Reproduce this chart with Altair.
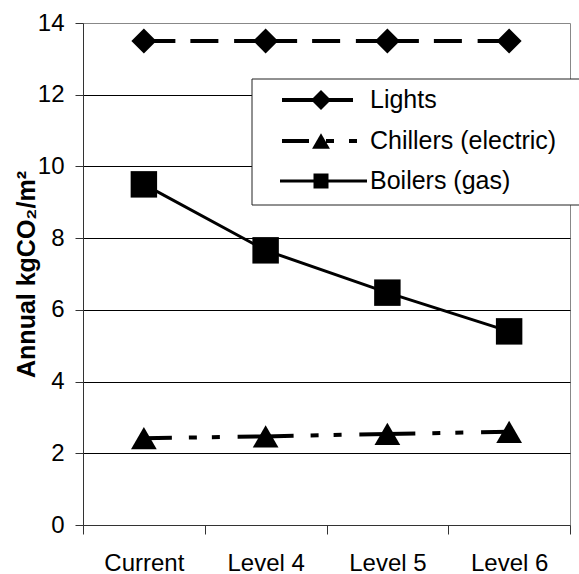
import altair as alt
import pandas as pd

# Annual CO2 intensity by upgrade level
categories = ["Current", "Level 4", "Level 5", "Level 6"]
series_names = ["Lights", "Chillers (electric)", "Boilers (gas)"]
lights = [13.5, 13.5, 13.5, 13.5]
chillers = [2.42, 2.47, 2.54, 2.60]
boilers = [9.5, 7.66, 6.48, 5.4]
y_ticks = [0, 2, 4, 6, 8, 10, 12, 14]

values = {"Lights": lights, "Chillers (electric)": chillers, "Boilers (gas)": boilers}
rows = []
for name in series_names:
    for cat, v in zip(categories, values[name]):
        rows.append({"category": cat, "series": name, "value": v})
df = pd.DataFrame(rows)

FONT = "Liberation Sans"
W, H = 487, 502

x_enc = alt.X(
    "category:N",
    sort=categories,
    scale=alt.Scale(paddingInner=0, paddingOuter=0),
    axis=alt.Axis(
        title=None,
        labelAngle=0,
        labelFontSize=24,
        labelFont=FONT,
        labelColor="black",
        labelPadding=17,
        tickBand="extent",
        tickSize=9,
        tickColor="#333",
        domainColor="#333",
        grid=False,
    ),
)
y_enc = alt.Y(
    "value:Q",
    scale=alt.Scale(domain=[0, 14], nice=False, zero=True),
    axis=alt.Axis(
        values=y_ticks,
        title="Annual kgCO₂/m²",
        titleFont=FONT,
        titleFontSize=25,
        titleFontWeight="bold",
        titleColor="black",
        titleAngle=270,
        titleAlign="center",
        titleBaseline="alphabetic",
        titleX=-49,
        titleY=H / 2,
        labelFontSize=24,
        labelFont=FONT,
        labelColor="black",
        labelPadding=11,
        tickSize=8,
        tickColor="#333",
        domainColor="#333",
        grid=True,
        gridColor="black",
        gridWidth=1,
        gridOpacity=alt.condition("datum.value === 14 || datum.value === 0", alt.value(0), alt.value(1)),
    ),
)

base = alt.Chart(df)

line_styles = {
    "Lights": dict(strokeWidth=4, strokeDash=[63, 15, 28, 15.75], strokeDashOffset=31.5),
    "Chillers (electric)": dict(strokeWidth=4, strokeDash=[56, 17, 8, 15, 8, 17.75], strokeDashOffset=28),
    "Boilers (gas)": dict(strokeWidth=3),
}
shapes = ["diamond", "triangle-up", "square"]
sizes = [625, 700, 529]

layers = []
for name in series_names:
    layers.append(
        base.transform_filter(alt.datum.series == name)
        .mark_line(color="black", **line_styles[name])
        .encode(x=x_enc, y=y_enc)
    )

layers.append(
    base.mark_point(filled=True, color="black", opacity=1)
    .encode(
        x=x_enc,
        y=y_enc,
        shape=alt.Shape("series:N", scale=alt.Scale(domain=series_names, range=shapes), legend=None),
        size=alt.Size("series:N", scale=alt.Scale(domain=series_names, range=sizes), legend=None),
    )
)

# Legend box, drawn inside the plot frame (pixel offsets from the plot origin)
box = alt.Chart(pd.DataFrame({"series": ["box"]})).mark_rect(
    fill="white", stroke="#222", strokeWidth=1, clip=False
).encode(x=alt.value(169), x2=alt.value(530), y=alt.value(56), y2=alt.value(182))
layers.append(box)

legend_y = [77, 118, 158]
legend_line = {
    "Lights": dict(x0=199, x1=270, strokeWidth=4, strokeDash=[32, 12]),
    "Chillers (electric)": dict(x0=199, x1=275, strokeWidth=4, strokeDash=[27, 17, 8, 15, 8, 17]),
    "Boilers (gas)": dict(x0=197, x1=284, strokeWidth=3),
}
legend_sizes = [400, 320, 225]
for i, name in enumerate(series_names):
    one = alt.Chart(pd.DataFrame({"series": [name]}))
    st = dict(legend_line[name])
    x0, x1 = st.pop("x0"), st.pop("x1")
    layers.append(
        one.mark_rule(color="black", clip=False, **st).encode(
            x=alt.value(x0), x2=alt.value(x1), y=alt.value(legend_y[i])
        )
    )
    layers.append(
        one.mark_point(filled=True, color="black", opacity=1, shape=shapes[i], size=legend_sizes[i], clip=False)
        .encode(x=alt.value(238), y=alt.value(legend_y[i]))
    )
    layers.append(
        one.mark_text(align="left", baseline="middle", font=FONT, fontSize=25, color="black", clip=False)
        .encode(x=alt.value(287), y=alt.value(legend_y[i]), text="series:N")
    )

chart = (
    alt.layer(*layers)
    .properties(
        width=W,
        height=H,
        autosize=alt.AutoSizeParams(type="none"),
        padding={"left": 83, "top": 23, "right": 9, "bottom": 49},
        background="white",
    )
    .configure_view(stroke="#888", strokeWidth=1)
)

chart.save("out.html", embed_options={"renderer": "svg", "actions": False})
